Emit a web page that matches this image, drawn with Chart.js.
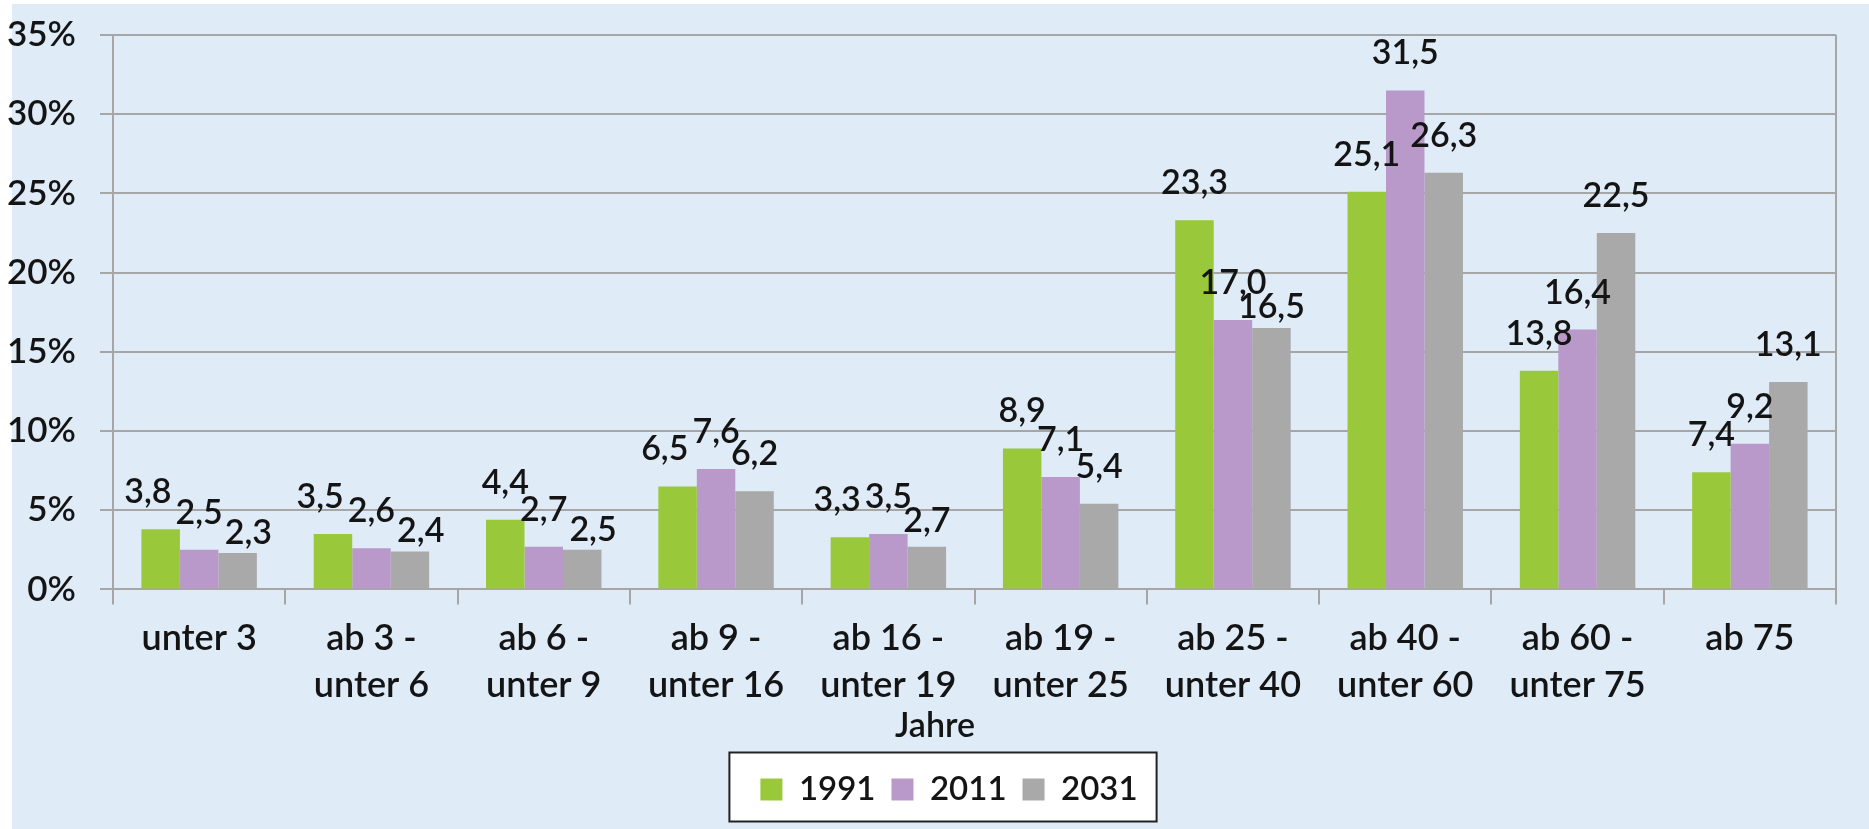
<!DOCTYPE html>
<html><head><meta charset="utf-8">
<script src="https://cdn.jsdelivr.net/npm/chart.js@4.4.1/dist/chart.umd.min.js"></script>
<style>html,body{margin:0;padding:0;background:#fff;overflow:hidden}</style>
</head><body>
<canvas id="c" width="1869" height="829"></canvas>
<script>
// ---- data ----
const categories = [
  ["unter 3"], ["ab 3 -", "unter 6"], ["ab 6 -", "unter 9"], ["ab 9 -", "unter 16"],
  ["ab 16 -", "unter 19"], ["ab 19 -", "unter 25"], ["ab 25 -", "unter 40"],
  ["ab 40 -", "unter 60"], ["ab 60 -", "unter 75"], ["ab 75"]
];
const seriesNames = ["1991", "2011", "2031"];
const values1991 = [3.8, 3.5, 4.4, 6.5, 3.3, 8.9, 23.3, 25.1, 13.8, 7.4];
const values2011 = [2.5, 2.6, 2.7, 7.6, 3.5, 7.1, 17.0, 31.5, 16.4, 9.2];
const values2031 = [2.3, 2.4, 2.5, 6.2, 2.7, 5.4, 16.5, 26.3, 22.5, 13.1];
const yMin = 0, yMax = 35, yStep = 5;
const axisTitle = "Jahre";

// ---- styles ----
const colors = ["#99c83b", "#b899c9", "#a9a9a9"];
const GRID = "#a6a6a6";
const TEXT = "#141414";
const BG = "#dfebf7";
const FONT = "Lato";
const FW = "600";
const LEGEND_SHIFT = 31, TITLE_SHIFT = 17;

const fmt = v => v.toFixed(1).replace(".", ",");

const deco = {
  id: "deco",
  afterLayout(chart) {
    const lg = chart.legend;
    if (lg) { lg.left += LEGEND_SHIFT; lg.right += LEGEND_SHIFT; }
    const t = chart.titleBlock;
    if (t) { t.left += TITLE_SHIFT; t.right += TITLE_SHIFT; }
  },
  beforeDraw(chart) {
    const ctx = chart.ctx;
    ctx.save();
    ctx.fillStyle = "#ffffff";
    ctx.fillRect(0, 0, chart.width, chart.height);
    ctx.fillStyle = BG;
    ctx.fillRect(12, 4, chart.width - 12, chart.height - 4);
    const hb = chart.legend && chart.legend.legendHitBoxes;
    if (hb && hb.length) {
      const first = hb[0], last = hb[hb.length - 1];
      const l = first.left - 31, r = last.left + last.width + 19;
      const cy = first.top + first.height / 2;
      ctx.fillStyle = "#ffffff";
      ctx.fillRect(l, cy - 37, r - l, 69);
      ctx.strokeStyle = "#222";
      ctx.lineWidth = 2;
      ctx.strokeRect(l, cy - 37, r - l, 69);
    }
    ctx.restore();
  },
  afterDatasetsDraw(chart) {
    const ctx = chart.ctx;
    ctx.save();
    ctx.font = FW + " 34px " + FONT;
    ctx.fillStyle = TEXT;
    ctx.textAlign = "center";
    ctx.textBaseline = "alphabetic";
    const CAP = 24, GAP = 26;
    const n = chart.data.labels.length;
    for (let i = 0; i < n; i++) {
      const items = chart.data.datasets.map((ds, d) => {
        const el = chart.getDatasetMeta(d).data[i];
        const txt = fmt(ds.data[i]);
        return { x: el.x, y: el.y - GAP, top: el.y, w: ctx.measureText(txt).width, txt };
      });
      const ov = (a, b) => ({ v: CAP - Math.abs(a.y - b.y), h: (a.x + a.w / 2) - (b.x - b.w / 2) });
      let o = ov(items[0], items[1]);
      if (o.v > 2 && o.h > 0) items[0].x -= o.h + 4;
      o = ov(items[1], items[2]);
      if (o.v > 2 && o.h > 0) {
        const g = items[2];
        if (g.y >= items[1].y) g.y = Math.min(g.top - 9, items[1].y + CAP);
        o = ov(items[1], g);
        if (o.v > 2 && o.h > 0) g.x += o.h + 2;
      }
      items.forEach(it => ctx.fillText(it.txt, it.x, it.y));
    }
    ctx.restore();
  }
};

new Chart(document.getElementById("c"), {
  type: "bar",
  data: {
    labels: categories,
    datasets: [values1991, values2011, values2031].map((vals, i) => ({
      label: seriesNames[i],
      data: vals,
      backgroundColor: colors[i],
      borderWidth: 0,
      categoryPercentage: 0.67,
      barPercentage: 1.0
    }))
  },
  options: {
    responsive: false,
    devicePixelRatio: 1,
    animation: false,
    layout: { padding: { left: 0, right: 33, top: 35, bottom: 13 } },
    scales: {
      x: {
        grid: {
          offset: true,
          color: c => (c.type !== "tick" || c.index === 0) ? GRID : "rgba(0,0,0,0)",
          tickColor: GRID,
          lineWidth: 2,
          tickLength: 15
        },
        border: { color: GRID, width: 2 },
        ticks: {
          font: { family: FONT, size: 36, weight: FW, lineHeight: 1.3 },
          color: TEXT, padding: 11, maxRotation: 0, autoSkip: false
        },
        afterFit: s => { s.height = s.height - 11; }
      },
      y: {
        min: yMin, max: yMax,
        ticks: {
          stepSize: yStep,
          callback: v => v + "%",
          font: { family: FONT, size: 35, weight: FW },
          color: TEXT, padding: 24
        },
        grid: { color: GRID, lineWidth: 2, tickLength: 13 },
        border: { color: GRID, width: 2 },
        afterFit: s => { s.width = 113; s.paddingTop = 0; s.paddingBottom = 0; }
      }
    },
    plugins: {
      tooltip: { enabled: false },
      title: {
        display: true, text: axisTitle, position: "bottom", weight: 500,
        font: { family: FONT, size: 34, weight: FW, lineHeight: 1.0 },
        color: TEXT, padding: { top: 0, bottom: 14 }
      },
      legend: {
        position: "bottom",
        labels: {
          font: { family: FONT, size: 33, weight: FW },
          color: TEXT, boxWidth: 22, boxHeight: 22, padding: 16
        }
      }
    }
  },
  plugins: [deco]
});
</script>
</body></html>
